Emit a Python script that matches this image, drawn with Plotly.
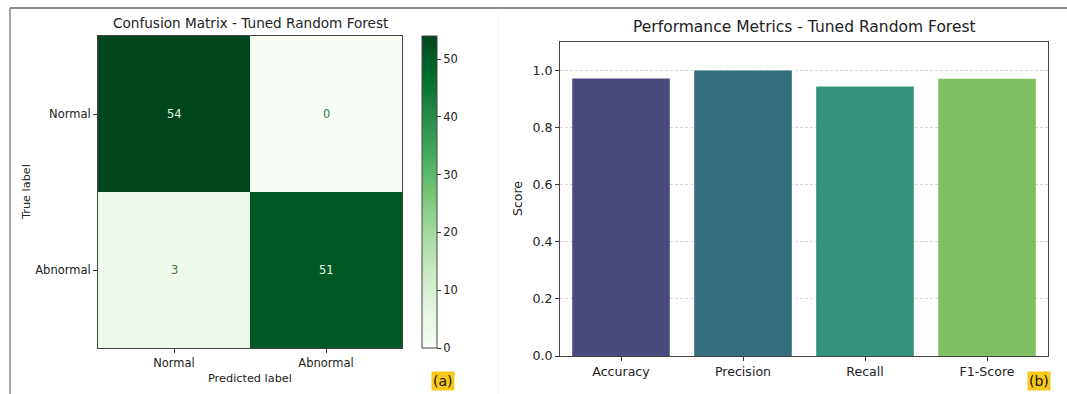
import plotly.graph_objects as go

# Confusion matrix of the tuned random forest
class_labels = ["Normal", "Abnormal"]
conf_matrix = [[54, 0],
               [3, 51]]

# Summary metrics
metric_names = ["Accuracy", "Precision", "Recall", "F1-Score"]
metric_scores = [0.9722, 1.0, 0.9444, 0.9714]
metric_colors = ["#4a4a7c", "#336f7d", "#35947b", "#80c062"]

colorbar_ticks = [0, 10, 20, 30, 40, 50]
score_ticks = [0.0, 0.2, 0.4, 0.6, 0.8, 1.0]

W, H = 1067, 394
FONT = "DejaVu Sans, Liberation Sans, sans-serif"
greens = [
    [0.0, "#f7fcf5"], [0.125, "#e5f5e0"], [0.25, "#c7e9c0"], [0.375, "#a1d99b"],
    [0.5, "#74c476"], [0.625, "#41ab5d"], [0.75, "#238b45"], [0.875, "#006d2c"],
    [1.0, "#00471f"],
]


def px_x(p):
    return p / W


def px_y(p):
    return 1 - p / H


fig = go.Figure()

zmax = max(max(r) for r in conf_matrix)
fig.add_trace(go.Heatmap(
    z=conf_matrix, x=class_labels, y=class_labels,
    colorscale=greens, zmin=0, zmax=zmax,
    xaxis="x", yaxis="y", showscale=True, hoverinfo="z",
    colorbar=dict(
        x=px_x(422), xanchor="left", y=px_y(348), yanchor="bottom",
        len=312, lenmode="pixels", thickness=15, thicknessmode="pixels",
        outlinewidth=1, outlinecolor="#444", xpad=0, ypad=0,
        tickvals=colorbar_ticks, ticks="outside", ticklen=4, tickcolor="#333",
        tickfont=dict(family=FONT, size=11.5, color="#222"),
    ),
))

fig.add_trace(go.Bar(
    x=metric_names, y=metric_scores, marker=dict(color=metric_colors, line=dict(width=0)),
    width=0.8, xaxis="x2", yaxis="y2", showlegend=False,
))


def label(x, y, text, size, **kw):
    return dict(x=px_x(x), y=px_y(y), xref="paper", yref="paper", text=text,
                xanchor="center", yanchor="middle", showarrow=False,
                font=dict(family=FONT, size=size, color=kw.pop("color", "#222")), **kw)


annotations = []
# Cell counts, light text on dark cells and dark text on light cells
for i, row in enumerate(conf_matrix):
    for j, v in enumerate(row):
        annotations.append(dict(
            x=class_labels[j], y=class_labels[i], xref="x", yref="y", text=str(v),
            showarrow=False, font=dict(family=FONT, size=11.5,
                                       color="#e8f5e4" if v > zmax / 2 else "#2f7d3e"),
        ))

annotations += [
    label(250, 23, "Confusion Matrix - Tuned Random Forest", 13.6),
    label(804, 27, "Performance Metrics - Tuned Random Forest", 15.5),
    label(250, 378, "Predicted label", 11.3),
    label(26, 192, "True label", 11.3, textangle=-90),
    label(517, 199, "Score", 12.5, textangle=-90),
    label(443, 381, "(a)", 14, color="#111", bgcolor="#f7c81a", borderpad=1),
    label(1039, 381, "(b)", 14, color="#111", bgcolor="#f7c81a", borderpad=1),
]

shapes = [
    # outer frame lines
    dict(type="line", xref="paper", yref="paper", x0=px_x(10), x1=1, y0=px_y(8), y1=px_y(8),
         line=dict(color="#8a8a8a", width=2)),
    dict(type="line", xref="paper", yref="paper", x0=px_x(10), x1=px_x(10), y0=px_y(8), y1=0,
         line=dict(color="#8a8a8a", width=1.5)),
    dict(type="line", xref="paper", yref="paper", x0=px_x(498), x1=px_x(498), y0=px_y(14), y1=0,
         line=dict(color="#f4f4f4", width=1)),
]

axis_font = dict(family=FONT, size=11.5, color="#222")
fig.update_layout(
    width=W, height=H, margin=dict(l=0, r=0, t=0, b=0, autoexpand=False),
    paper_bgcolor="white", plot_bgcolor="white", showlegend=False,
    xaxis=dict(domain=[px_x(98), px_x(402)], anchor="y", showline=True, mirror=True,
               linecolor="#444", linewidth=1, ticks="outside", ticklen=4, tickcolor="#333",
               tickfont=axis_font, showgrid=False, zeroline=False, automargin=False),
    yaxis=dict(domain=[px_y(348), px_y(36)], anchor="x", autorange="reversed", showline=True,
               mirror=True, linecolor="#444", linewidth=1, ticks="outside", ticklen=4,
               tickcolor="#333", tickfont=axis_font, showgrid=False, zeroline=False,
               automargin=False),
    xaxis2=dict(domain=[px_x(560), px_x(1048)], anchor="y2", range=[-0.5, 3.5], showline=True,
                mirror=True, linecolor="#444", linewidth=1, ticks="outside", ticklen=4,
                tickcolor="#333", tickfont=dict(family=FONT, size=12.6, color="#222"),
                showgrid=False, zeroline=False, automargin=False),
    yaxis2=dict(domain=[px_y(356), px_y(42)], anchor="x2", range=[0, 1.1], tickvals=score_ticks,
                tickformat=".1f", showline=True, mirror=True, linecolor="#444", linewidth=1,
                ticks="outside", ticklen=4, tickcolor="#333",
                tickfont=dict(family=FONT, size=12.6, color="#222"), automargin=False,
                showgrid=True, gridcolor="#d8d8d8", griddash="3px,2px", gridwidth=1,
                zeroline=False),
    annotations=annotations, shapes=shapes,
)

fig.write_html("out.html")
